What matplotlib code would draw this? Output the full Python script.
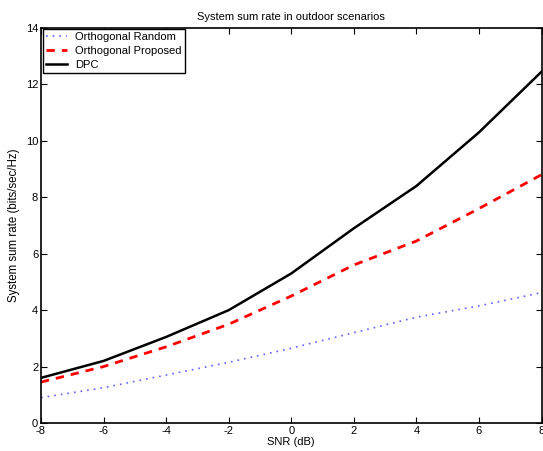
import matplotlib
matplotlib.use('Agg')
import matplotlib.pyplot as plt

snr = [-8, -6, -4, -2, 0, 2, 4, 6, 8]
rate_random = [0.9, 1.25, 1.7, 2.15, 2.65, 3.2, 3.75, 4.15, 4.62]
rate_proposed = [1.45, 2.0, 2.7, 3.5, 4.5, 5.6, 6.45, 7.6, 8.8]
rate_dpc = [1.6, 2.2, 3.05, 4.0, 5.3, 6.9, 8.4, 10.3, 12.45]

plt.rcParams['font.family'] = ['Liberation Sans', 'DejaVu Sans']
plt.rcParams['font.size'] = 8
plt.rcParams['axes.unicode_minus'] = False

fig = plt.figure(figsize=(5.43, 4.51), dpi=100)
# axes box in pixels: left 41, right 541.5, top 28, bottom 423
ax = fig.add_axes([41/543, 1-423/451, 500.5/543, 395/451])

ax.plot(snr, rate_random, color='#6060ff', linestyle=(0, (1, 3)), linewidth=1.2, label='Orthogonal Random')
ax.plot(snr, rate_proposed, color='red', linestyle=(0, (3, 2.5)), linewidth=2, label='Orthogonal Proposed')
ax.plot(snr, rate_dpc, color='black', linestyle='-', linewidth=1.8, label='DPC')

ax.set_xlim(-8, 8)
ax.set_ylim(0, 14)
ax.set_xticks(range(-8, 9, 2))
ax.set_yticks(range(0, 15, 2))
ax.tick_params(direction='in', top=True, right=True, length=4, pad=2)
for s in ax.spines.values():
    s.set_linewidth(1.2)

ax.set_xlabel('SNR (dB)', labelpad=1)
ax.set_ylabel('System sum rate (bits/sec/Hz)', labelpad=4, fontsize=8.3)
ax.set_title('System sum rate in outdoor scenarios', pad=6, fontsize=8)

leg = ax.legend(loc='upper left', bbox_to_anchor=(2/500.5, 394/395), borderaxespad=0,
                fancybox=False, edgecolor='black', framealpha=1,
                handlelength=1.9, handletextpad=0.7, borderpad=0.3, labelspacing=0.35)
leg.get_frame().set_linewidth(1)

fig.savefig('out.png', dpi=100)
